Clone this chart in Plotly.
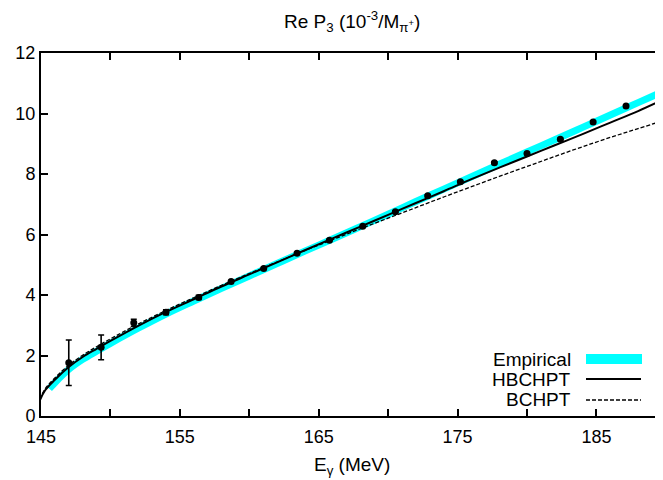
import plotly.graph_objects as go

# ---- data ----
data_E = [147.0, 149.33, 151.68, 154.0, 156.36, 158.69, 161.04, 163.44, 165.77, 168.17,
          170.52, 172.85, 175.2, 177.65, 180.0, 182.4, 184.76, 187.13]
data_P3 = [1.76, 2.27, 3.08, 3.43, 3.92, 4.45, 4.88, 5.38, 5.81, 6.27,
           6.75, 7.28, 7.74, 8.37, 8.68, 9.15, 9.72, 10.25]
data_err = [0.75, 0.41, 0.12, 0.08, 0.07, 0.03, 0.03, 0.03, 0.03, 0.03,
            0.03, 0.03, 0.03, 0.03, 0.03, 0.03, 0.03, 0.03]

curve_E = [144.9, 145.3, 146, 147, 148, 149, 150, 152, 154, 156, 158, 160, 162, 164, 166,
           168, 170, 172, 174, 176, 178, 180, 182, 184, 186, 188, 190]
hbchpt = [0.50, 0.85, 1.20, 1.62, 1.95, 2.22, 2.48, 2.98, 3.44, 3.86, 4.28, 4.68, 5.08, 5.48,
          5.87, 6.26, 6.65, 7.04, 7.43, 7.83, 8.21, 8.58, 8.95, 9.32, 9.70, 10.08, 10.50]
bchpt = [0.55, 0.90, 1.26, 1.68, 2.01, 2.29, 2.55, 3.04, 3.49, 3.91, 4.32, 4.71, 5.09, 5.47,
         5.83, 6.19, 6.54, 6.89, 7.24, 7.58, 7.92, 8.25, 8.58, 8.90, 9.21, 9.50, 9.79]

emp_E = [145.6, 146, 147, 148, 149, 150, 152, 154, 156, 158, 160, 162, 164, 166,
         168, 170, 172, 174, 176, 178, 180, 182, 184, 186, 188, 190]
empirical = [0.90, 1.10, 1.54, 1.87, 2.14, 2.40, 2.90, 3.37, 3.80, 4.22, 4.63, 5.04, 5.45,
             5.85, 6.26, 6.67, 7.09, 7.50, 7.91, 8.32, 8.73, 9.13, 9.54, 9.95, 10.36, 10.77]

x_tickvals = [145, 150, 155, 160, 165, 170, 175, 180, 185]
x_ticktext = ["145", "", "155", "", "165", "", "175", "", "185"]
y_tickvals = [0, 2, 4, 6, 8, 10, 12]

legend_names = ["Empirical", "HBCHPT", "BCHPT"]

FONT = "Liberation Sans, Arial, sans-serif"
# page body has an 8px margin; figure sized so that it ends at the window edge
OFF = 8
W, H = 655, 472
ML, MR, MT, MB = 33, 0, 45, 64
PW, PH = W - ML - MR, H - MT - MB
X_PER_PX = 1 / 13.886


def px_x(px):
    return (px - OFF - ML) / PW


def px_y(py):
    return (OFF + H - MB - py) / PH


fig = go.Figure()

fig.add_trace(go.Scatter(x=emp_E, y=empirical, mode="lines", line=dict(color="#00ffff", width=7, shape="spline"),
                         showlegend=False, hoverinfo="skip"))
fig.add_trace(go.Scatter(x=curve_E, y=hbchpt, mode="lines", line=dict(color="black", width=2, shape="spline"),
                         showlegend=False))
fig.add_trace(go.Scatter(x=curve_E, y=bchpt, mode="lines", yaxis="y2",
                         line=dict(color="black", width=1.3, dash="4px,2px", shape="spline"),
                         showlegend=False))
fig.add_trace(go.Scatter(x=data_E, y=data_P3, mode="markers",
                         marker=dict(color="black", size=7),
                         error_y=dict(type="data", array=data_err, color="black", thickness=1.6, width=3),
                         showlegend=False))

axis_font = dict(family=FONT, size=18, color="black")

fig.update_layout(
    width=W, height=H,
    margin=dict(l=ML, r=MR, t=MT, b=MB, pad=0),
    paper_bgcolor="white", plot_bgcolor="white",
    showlegend=False,
    xaxis=dict(range=[145, 145 + PW * X_PER_PX], tickvals=x_tickvals, ticktext=x_ticktext,
               ticks="inside", ticklen=7, tickwidth=1.5, tickcolor="black",
               showline=True, linecolor="black", linewidth=2, mirror="ticks",
               showgrid=False, zeroline=False, tickfont=axis_font, ticklabelstandoff=3),
    yaxis=dict(range=[0, 12], tickvals=y_tickvals, ticks="inside", ticklen=7, tickwidth=1.5,
               tickcolor="black", showline=True, linecolor="black", linewidth=2, mirror=False,
               showgrid=False, zeroline=False, tickfont=axis_font),
    yaxis2=dict(range=[0, 12], overlaying="y", side="right", tickvals=y_tickvals, ticks="inside",
                ticklen=7, tickwidth=1.5, tickcolor="black", showline=False,
                showticklabels=False, showgrid=False, zeroline=False),
)

annotations = [
    dict(text="Re P<sub>3</sub> (10<sup>-3</sup>/M<sub>π<sup>+</sup></sub>)", x=px_x(352), y=px_y(22),
         xref="paper", yref="paper", showarrow=False, xanchor="center", yanchor="middle",
         font=dict(family=FONT, size=19, color="black")),
    dict(text="E<sub>γ</sub> (MeV)", x=px_x(352), y=px_y(466), xref="paper", yref="paper",
         showarrow=False, xanchor="center", yanchor="middle", font=dict(family=FONT, size=19, color="black")),
]
legend_y = [359, 379, 399]
for name, ly in zip(legend_names, legend_y):
    annotations.append(dict(text=name, x=px_x(573), y=px_y(ly), xref="paper", yref="paper",
                            showarrow=False, xanchor="right", yanchor="middle",
                            font=dict(family=FONT, size=19, color="black")))
fig.update_layout(annotations=annotations)

shapes = [
    dict(type="rect", x0=px_x(586), x1=px_x(642), y0=px_y(364), y1=px_y(354), xref="paper", yref="paper",
         fillcolor="#00ffff", line=dict(width=0)),
    dict(type="line", x0=px_x(586), x1=px_x(641), y0=px_y(379), y1=px_y(379), xref="paper", yref="paper",
         line=dict(color="black", width=2)),
    dict(type="line", x0=px_x(586), x1=px_x(641), y0=px_y(400), y1=px_y(400), xref="paper", yref="paper",
         line=dict(color="black", width=1.3, dash="4px,2px")),
]
fig.update_layout(shapes=shapes)

fig.write_html("out.html")
